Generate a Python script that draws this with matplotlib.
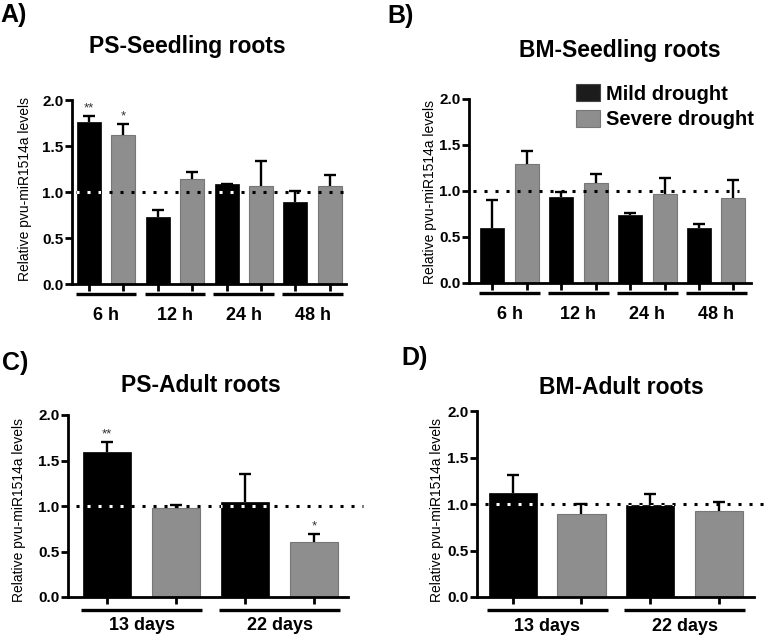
import matplotlib
matplotlib.use("Agg")
import matplotlib.pyplot as plt
from matplotlib.patches import Patch
from matplotlib.transforms import blended_transform_factory
import numpy as np

plt.rcParams['font.family'] = ['Liberation Sans', 'DejaVu Sans']

# ---------------- data ----------------
seedling_groups = ["6 h", "12 h", "24 h", "48 h"]
adult_groups = ["13 days", "22 days"]
series_names = ["Mild drought", "Severe drought"]

ps_seed_mild = [1.76, 0.73, 1.09, 0.89]
ps_seed_mild_err = [0.07, 0.07, 0.0, 0.12]
ps_seed_severe = [1.62, 1.14, 1.07, 1.07]
ps_seed_severe_err = [0.12, 0.08, 0.27, 0.11]

bm_seed_mild = [0.60, 0.93, 0.74, 0.60]
bm_seed_mild_err = [0.30, 0.06, 0.02, 0.04]
bm_seed_severe = [1.29, 1.09, 0.97, 0.92]
bm_seed_severe_err = [0.15, 0.09, 0.17, 0.20]

ps_adult_mild = [1.59, 1.04]
ps_adult_mild_err = [0.11, 0.31]
ps_adult_severe = [0.98, 0.60]
ps_adult_severe_err = [0.03, 0.09]

bm_adult_mild = [1.12, 0.99]
bm_adult_mild_err = [0.19, 0.12]
bm_adult_severe = [0.89, 0.92]
bm_adult_severe_err = [0.11, 0.10]

ps_seed_mild_stars = ["**", "", "", ""]
ps_seed_severe_stars = ["*", "", "", ""]
ps_adult_mild_stars = ["**", ""]
ps_adult_severe_stars = ["", "*"]

titles = ["PS-Seedling roots", "BM-Seedling roots", "PS-Adult roots", "BM-Adult roots"]
letters = ["A)", "B)", "C)", "D)"]
ylabel = "Relative pvu-miR1514a levels"
yticks = [0.0, 0.5, 1.0, 1.5, 2.0]

# ---------------- style ----------------
W, H = 768, 639
BLACK = "#000000"
GREY = "#8e8e8e"
GREY_EDGE = "#777777"

fig = plt.figure(figsize=(W / 100, H / 100), dpi=100)


def px_axes(left, right, top, bottom):
    return fig.add_axes([left / W, 1 - bottom / H, (right - left) / W, (bottom - top) / H])


def panel(ax, groups, mild, mild_err, severe, severe_err, xlim, dot_end,
          gl_y, lab_y, mild_stars=None, severe_stars=None):
    n = len(groups)
    xm = np.arange(n) * 2.0
    xs = xm + 1.0
    bm = ax.bar(xm, mild, width=0.7, color=BLACK, edgecolor=BLACK, linewidth=0.5, zorder=2)
    ax.bar(xs, severe, width=0.7, color=GREY, edgecolor=GREY_EDGE, linewidth=0.8, zorder=2)
    for x, v, e in ((xm, mild, mild_err), (xs, severe, severe_err)):
        eb = ax.errorbar(x, v, yerr=[np.zeros(n), e], fmt='none', ecolor='black',
                         elinewidth=1.7, capsize=4.5, capthick=1.7, zorder=3)
        caps = eb[1]
        if len(caps) == 2:
            caps[0].set_visible(False)
    # reference dotted line at 1.0
    ls = (0, (1, 2.6))
    ax.plot([xlim[0] + 0.12, dot_end], [1, 1], color='black', lw=2.2, linestyle=ls,
            dash_capstyle='butt', clip_on=False, zorder=5)
    for rect in bm.patches:
        ln, = ax.plot([xlim[0] + 0.12, dot_end], [1, 1], color='white', lw=2.2,
                      linestyle=ls, dash_capstyle='butt', zorder=6)
        ln.set_clip_path(rect)
    # stars
    for stars, x, v, e in ((mild_stars, xm, mild, mild_err), (severe_stars, xs, severe, severe_err)):
        if stars is None:
            continue
        for s, xx, vv, ee in zip(stars, x, v, e):
            if s:
                ax.annotate(s, (xx, vv + ee), xytext=(0, 1), textcoords='offset points',
                            ha='center', va='bottom', fontsize=9.5, color='#333333')
    # axes style
    ax.set_xlim(*xlim)
    ax.set_ylim(0, 2.0)
    ax.set_yticks(yticks)
    ax.set_yticklabels([f"{t:.1f}" for t in yticks], fontsize=11, fontweight='bold')
    ax.set_xticks(np.concatenate([xm, xs]))
    ax.set_xticklabels([])
    for sp in ('top', 'right'):
        ax.spines[sp].set_visible(False)
    for sp in ('left', 'bottom'):
        ax.spines[sp].set_linewidth(2.0)
    ax.tick_params(axis='both', direction='out', length=5, width=2.0, pad=1)
    ax.patch.set_alpha(0)
    # group lines and labels
    trans = blended_transform_factory(ax.transData, ax.transAxes)
    for g, lab in enumerate(groups):
        mid = 2.0 * g + 0.5
        ax.plot([mid - 0.88, mid + 0.88], [gl_y, gl_y], transform=trans, color='black',
                lw=2.4, solid_capstyle='butt', clip_on=False)
        ax.text(mid, lab_y, lab, transform=trans, ha='center', va='center',
                fontsize=13, fontweight='bold')


axA = px_axes(72, 346, 100, 284)
axB = px_axes(469, 751, 99, 283)
axC = px_axes(68, 348, 415, 597)
axD = px_axes(477, 754, 411, 597)

panel(axA, seedling_groups, ps_seed_mild, ps_seed_mild_err, ps_seed_severe, ps_seed_severe_err,
      (-0.49, 7.47), 7.47, -0.054, -0.17, ps_seed_mild_stars, ps_seed_severe_stars)
panel(axB, seedling_groups, bm_seed_mild, bm_seed_mild_err, bm_seed_severe, bm_seed_severe_err,
      (-0.68, 7.51), 7.17, -0.054, -0.17)
panel(axC, adult_groups, ps_adult_mild, ps_adult_mild_err, ps_adult_severe, ps_adult_severe_err,
      (-0.57, 3.49), 3.71, -0.071, -0.155, ps_adult_mild_stars, ps_adult_severe_stars)
panel(axD, adult_groups, bm_adult_mild, bm_adult_mild_err, bm_adult_severe, bm_adult_severe_err,
      (-0.52, 3.51), 3.71, -0.07, -0.16)

# titles, panel letters, y labels
title_pos = [(187, 46), (620, 50), (201, 385), (621, 387)]
letter_pos = [(0, 15), (387, 16), (2, 363), (401, 358)]
ylab_pos = [(25, 189), (430, 192), (19, 510), (437, 510)]
for t, (x, y) in zip(titles, title_pos):
    fig.text(x / W, 1 - y / H, t, ha='center', va='center', fontsize=16.5, fontweight='bold')
for t, (x, y) in zip(letters, letter_pos):
    fig.text(x / W, 1 - y / H, t, ha='left', va='center', fontsize=18, fontweight='bold')
for (x, y) in ylab_pos:
    fig.text(x / W, 1 - y / H, ylabel, ha='center', va='center', rotation=90, fontsize=10)

# legend
handles = [Patch(facecolor='#1c1c1c', edgecolor='#444444', linewidth=0.8),
           Patch(facecolor=GREY, edgecolor=GREY_EDGE, linewidth=0.8)]
fig.legend(handles, series_names, loc='upper left', bbox_to_anchor=(576 / W, 1 - 84 / H),
           frameon=False, prop={'size': 14.5, 'weight': 'bold'}, handlelength=1.2,
           handleheight=0.95, handletextpad=0.3, labelspacing=0.3, borderpad=0,
           borderaxespad=0)

fig.savefig("out.png", dpi=100)
